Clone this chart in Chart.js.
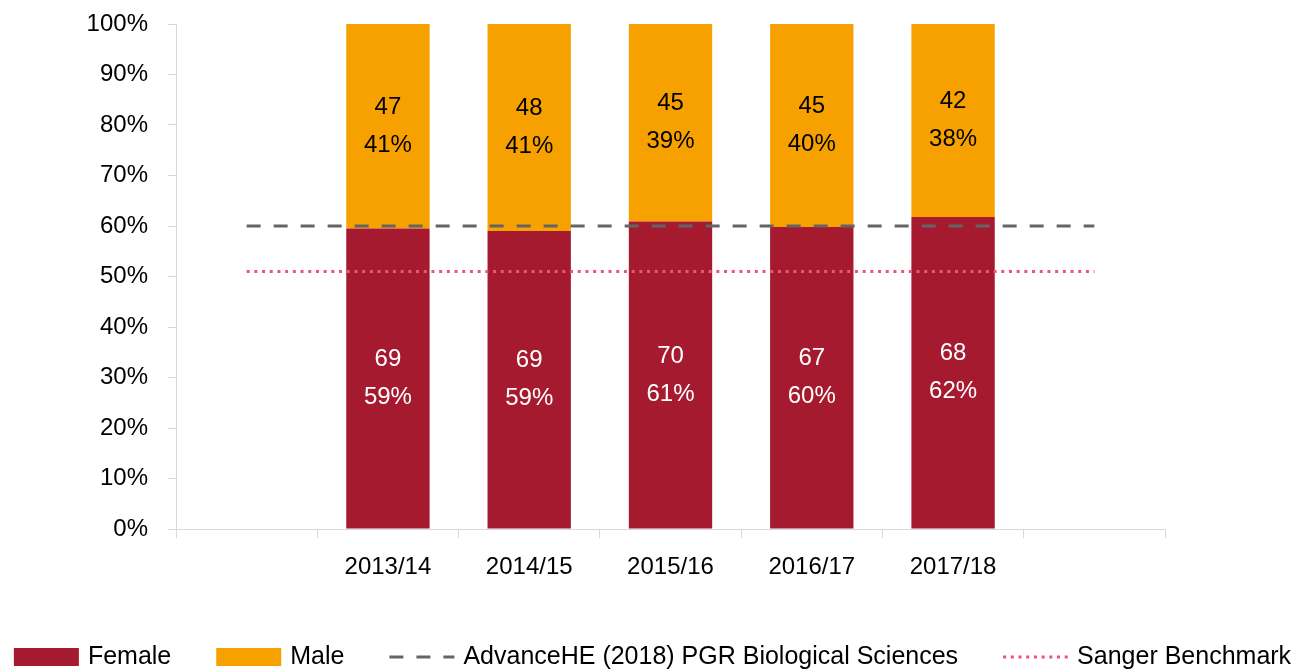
<!DOCTYPE html>
<html>
<head>
<meta charset="utf-8">
<script src="https://cdn.jsdelivr.net/npm/chart.js@4.4.1/dist/chart.umd.min.js"></script>
<style>
  html, body { margin: 0; padding: 0; background: #fff; overflow: hidden; }
  #wrap { width: 1305px; height: 670px; }
</style>
</head>
<body>
<div id="wrap"><canvas id="pgr-chart" width="1305" height="670"></canvas></div>
<script>
/* PGR intake by gender, with benchmarks */

// empty slots at either end so the benchmark lines run past the bars
const categories = ['', '2013/14', '2014/15', '2015/16', '2016/17', '2017/18', ''];

const femaleShare = [59.5, 59.0, 60.9, 59.8, 61.8];
const maleShare = [40.5, 41.0, 39.1, 40.2, 38.2];
const femaleCounts = [69, 69, 70, 67, 68];
const maleCounts = [47, 48, 45, 45, 42];
const femalePctLabels = ['59%', '59%', '61%', '60%', '62%'];
const malePctLabels = ['41%', '41%', '39%', '40%', '38%'];

const advanceHELine = [60, 60, 60, 60, 60, 60, 60];
const sangerLine = [51, 51, 51, 51, 51, 51, 51];

const yTicks = [0, 10, 20, 30, 40, 50, 60, 70, 80, 90, 100];

const FONT = '"Liberation Sans", Arial, sans-serif';
const pad = arr => [null, ...arr, null];

Chart.defaults.font.family = FONT;
Chart.defaults.font.size = 24;
Chart.defaults.color = '#000000';

/* Two-line labels in the middle of each bar segment */
const segmentLabels = {
    id: 'segmentLabels',
    afterDatasetsDraw(chart) {
        const ctx = chart.ctx;
        ctx.save();
        ctx.font = '24px ' + FONT;
        ctx.textAlign = 'center';
        ctx.textBaseline = 'middle';
        chart.data.datasets.forEach((ds, di) => {
            if (!ds.countLabels) return;
            const meta = chart.getDatasetMeta(di);
            meta.data.forEach((bar, i) => {
                if (ds.data[i] == null) return;
                const k = i - 1;
                const cy = (bar.y + bar.base) / 2;
                ctx.fillStyle = ds.labelColor;
                ctx.fillText(String(ds.countLabels[k]), bar.x, cy - 19);
                ctx.fillText(ds.pctLabels[k], bar.x, cy + 19);
            });
        });
        ctx.restore();
    }
};

/* Single-row legend along the bottom */
const legendRow = {
    id: 'legendRow',
    afterDraw(chart) {
        const ctx = chart.ctx;
        const boxW = 65, boxH = 18, textGap = 9, itemGap = 45, y = 657;
        ctx.save();
        ctx.font = '25px ' + FONT;
        const items = chart.data.datasets.map(ds => ({
            ds,
            w: boxW + textGap + ctx.measureText(ds.label).width
        }));
        const total = items.reduce((s, it) => s + it.w, 0) + itemGap * (items.length - 1);
        let x = (chart.width - total) / 2;
        items.forEach(({ ds, w }) => {
            if (ds.type === 'line') {
                ctx.strokeStyle = ds.borderColor;
                ctx.lineWidth = ds.borderWidth;
                ctx.setLineDash(ds.borderDash || []);
                ctx.beginPath();
                ctx.moveTo(x, y);
                ctx.lineTo(x + boxW, y);
                ctx.stroke();
                ctx.setLineDash([]);
            } else {
                ctx.fillStyle = ds.backgroundColor;
                ctx.fillRect(x, y - boxH / 2, boxW, boxH);
            }
            ctx.fillStyle = '#000000';
            ctx.textAlign = 'left';
            ctx.textBaseline = 'middle';
            ctx.fillText(ds.label, x + boxW + textGap, y);
            x += w + itemGap;
        });
        ctx.restore();
    }
};

new Chart(document.getElementById('pgr-chart'), {
    type: 'bar',
    data: {
        labels: categories,
        datasets: [
            {
                label: 'Female',
                data: pad(femaleShare),
                backgroundColor: '#A61A30',
                stack: 'gender',
                order: 2,
                barPercentage: 0.59,
                categoryPercentage: 1.0,
                countLabels: femaleCounts,
                pctLabels: femalePctLabels,
                labelColor: '#FFFFFF'
            },
            {
                label: 'Male',
                data: pad(maleShare),
                backgroundColor: '#F7A100',
                stack: 'gender',
                order: 2,
                barPercentage: 0.59,
                categoryPercentage: 1.0,
                countLabels: maleCounts,
                pctLabels: malePctLabels,
                labelColor: '#000000'
            },
            {
                type: 'line',
                label: 'AdvanceHE (2018) PGR Biological Sciences',
                data: advanceHELine,
                borderColor: '#646464',
                borderWidth: 3,
                borderDash: [14, 13],
                pointRadius: 0,
                stack: 'advance',
                order: 1
            },
            {
                type: 'line',
                label: 'Sanger Benchmark',
                data: sangerLine,
                borderColor: '#EC5675',
                borderWidth: 3,
                borderDash: [3, 4.7],
                pointRadius: 0,
                stack: 'sanger',
                order: 1
            }
        ]
    },
    options: {
        responsive: false,
        animation: false,
        layout: { padding: { top: 24, right: 140, bottom: 64, left: 0 } },
        scales: {
            x: {
                stacked: true,
                offset: true,
                grid: {
                    offset: true,
                    drawOnChartArea: false,
                    drawTicks: true,
                    tickLength: 9,
                    color: '#D9D9D9'
                },
                border: { color: '#D9D9D9' },
                ticks: { padding: 15, maxRotation: 0, autoSkip: false },
                afterFit: scale => { scale.height = 77; }
            },
            y: {
                stacked: true,
                min: 0,
                max: 100,
                afterBuildTicks: scale => { scale.ticks = yTicks.map(v => ({ value: v })); },
                grid: {
                    drawOnChartArea: false,
                    drawTicks: true,
                    tickLength: 8,
                    color: '#D9D9D9'
                },
                border: { color: '#D9D9D9' },
                ticks: { padding: 20, callback: v => v + '%' },
                afterFit: scale => {
                    scale.width = 176;
                    scale.paddingTop = 0;
                    scale.paddingBottom = 0;
                }
            }
        },
        plugins: {
            legend: { display: false },
            tooltip: { enabled: false }
        }
    },
    plugins: [segmentLabels, legendRow]
});
</script>
</body>
</html>
